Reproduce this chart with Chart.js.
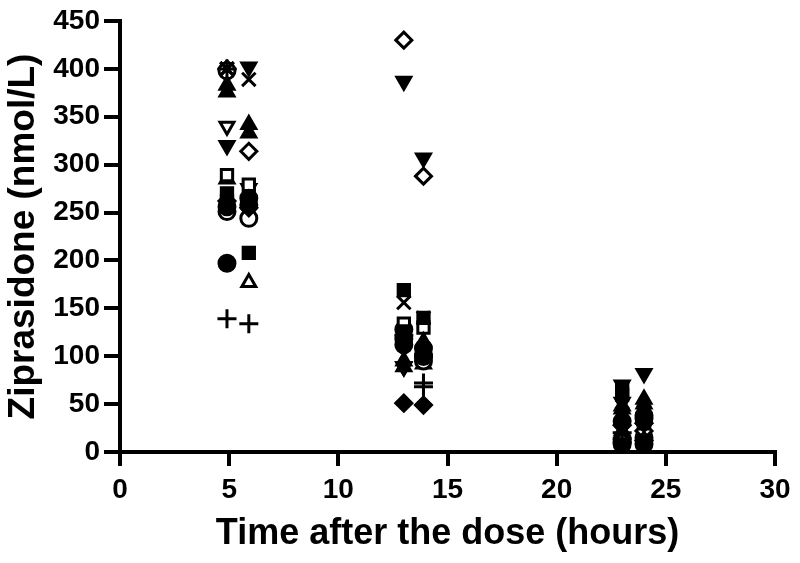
<!DOCTYPE html>
<html>
<head>
<meta charset="utf-8">
<script src="https://cdn.jsdelivr.net/npm/chart.js@4.4.1/dist/chart.umd.min.js"></script>
<style>
  html, body { margin: 0; padding: 0; background: #fff; }
</style>
</head>
<body>
<canvas id="chart" width="800" height="563"></canvas>
<script>
// one entry per subject: marker, sampling times (h) and ziprasidone (nmol/L)
const subjects = [
  { style: "star",     filled: false, rot: 0,   x: [4.9, 13.0, 23.0], y: [400, 122, 20] },
  { style: "crossRot", filled: false, rot: 0,   x: [4.9, 13.0, 23.0], y: [400, 156, 40] },
  { style: "circle",   filled: false, rot: 0,   x: [4.9, 13.9, 23.0], y: [398, 100, 12] },
  { style: "triangle", filled: true,  rot: 0,   x: [4.9, 13.0, 23.0], y: [383, 89, 45] },
  { style: "triangle", filled: true,  rot: 0,   x: [4.9, 13.9, 24.0], y: [376, 115, 50] },
  { style: "triangle", filled: false, rot: 180, x: [4.9, 13.0, 23.0], y: [340, 89, 52] },
  { style: "triangle", filled: true,  rot: 180, x: [4.9, 13.9, 23.0], y: [320, 307, 70] },
  { style: "rect",     filled: false, rot: 0,   x: [4.9, 13.0, 24.0], y: [289, 134, 30] },
  { style: "triangle", filled: false, rot: 0,   x: [4.9, 13.0, 23.0], y: [285, 125, 22] },
  { style: "rect",     filled: true,  rot: 0,   x: [4.9, 13.0, 23.0], y: [270, 169, 60] },
  { style: "rectRot",  filled: true,  rot: 0,   x: [4.9, 13.0, 23.0], y: [262, 51, 28] },
  { style: "circle",   filled: true,  rot: 0,   x: [4.9, 13.0, 24.0], y: [256, 118, 35] },
  { style: "circle",   filled: false, rot: 0,   x: [4.9, 13.9, 23.0], y: [251, 95, 8] },
  { style: "circle",   filled: true,  rot: 0,   x: [4.9, 13.0, 23.0], y: [197, 112, 32] },
  { style: "cross",    filled: false, rot: 0,   x: [4.9, 13.9, 23.0], y: [139, 68, 14] },
  { style: "triangle", filled: true,  rot: 180, x: [5.9, 13.0, 24.0], y: [402, 387, 82] },
  { style: "crossRot", filled: false, rot: 0,   x: [5.9, 13.9, 24.0], y: [389, 140, 42] },
  { style: "triangle", filled: true,  rot: 0,   x: [5.9, 13.9, 24.0], y: [342, 103, 55] },
  { style: "triangle", filled: true,  rot: 0,   x: [5.9, 13.0, 23.0], y: [333, 95, 48] },
  { style: "rectRot",  filled: false, rot: 0,   x: [5.9, 13.0, 24.0], y: [314, 430, 12] },
  { style: "rectRot",  filled: false, rot: 0,   x: [4.9, 13.9, 24.0], y: [400, 288, 22] },
  { style: "rect",     filled: false, rot: 0,   x: [5.9, 13.9, 24.0], y: [279, 130, 20] },
  { style: "triangle", filled: false, rot: 180, x: [5.9, 13.0, 24.0], y: [275, 89, 25] },
  { style: "circle",   filled: true,  rot: 0,   x: [5.9, 13.9, 24.0], y: [265, 108, 38] },
  { style: "rectRot",  filled: true,  rot: 0,   x: [5.9, 13.9, 24.0], y: [255, 49, 30] },
  { style: "circle",   filled: false, rot: 0,   x: [5.9, 13.0, 24.0], y: [244, 128, 15] },
  { style: "rect",     filled: true,  rot: 0,   x: [5.9, 13.9, 23.0], y: [208, 140, 65] },
  { style: "triangle", filled: false, rot: 0,   x: [5.9, 13.9, 24.0], y: [177, 92, 18] },
  { style: "cross",    filled: false, rot: 0,   x: [5.9, 13.9, 23.0], y: [134, 72, 10] },
  { style: "rect",     filled: true,  rot: 0,   x: [4.9, 13.0, 23.0], y: [262, 126, 8] },
  { style: "circle",   filled: true,  rot: 0,   x: [5.9, 13.9, 24.0], y: [258, 100, 8] }
];

const xTicks = [0, 5, 10, 15, 20, 25, 30];
const yTicks = [0, 50, 100, 150, 200, 250, 300, 350, 400, 450];

const datasets = subjects.map((s, i) => ({
  label: "Subject " + (i + 1),
  data: s.x.map((t, k) => ({ x: t, y: s.y[k] })),
  pointStyle: s.style,
  rotation: s.rot,
  pointRadius: ["cross", "crossRot", "star"].includes(s.style) ? 9.5 : 8,
  pointBorderWidth: 3,
  borderColor: "#000",
  backgroundColor: s.filled ? "#000" : "#fff",
  showLine: false,
  // filled markers on top, open ones underneath
  order: s.filled ? 0 : 1
}));

const fam = "'Liberation Sans', Arial, sans-serif";
const tickFont = { family: fam, size: 28, weight: "bold" };

new Chart(document.getElementById("chart"), {
  type: "scatter",
  data: { datasets },
  options: {
    responsive: false,
    animation: false,
    clip: false,
    layout: { padding: { top: 21, right: 25, left: 0, bottom: 0 } },
    plugins: { legend: { display: false }, tooltip: { enabled: false } },
    scales: {
      x: {
        type: "linear",
        min: 0, max: 30,
        afterBuildTicks: (scale) => { scale.ticks = xTicks.map(v => ({ value: v })); },
        afterFit: (scale) => { scale.height = 111; },
        border: { color: "#000", width: 4 },
        grid: { drawOnChartArea: false, drawTicks: true, tickLength: 14, lineWidth: 4, color: "#000" },
        ticks: { color: "#000", font: tickFont, padding: 7, maxRotation: 0 },
        title: { display: true, text: "Time after the dose (hours)", color: "#000",
                 font: { family: fam, size: 36, weight: "bold" }, padding: { top: 0, bottom: 7 } }
      },
      y: {
        type: "linear",
        min: 0, max: 450,
        afterBuildTicks: (scale) => { scale.ticks = yTicks.map(v => ({ value: v })); },
        afterFit: (scale) => { scale.width = 120; },
        border: { color: "#000", width: 4 },
        grid: { drawOnChartArea: false, drawTicks: true, tickLength: 16, lineWidth: 4, color: "#000" },
        ticks: { color: "#000", font: tickFont, padding: 4 },
        title: { display: true, text: "Ziprasidone (nmol/L)", color: "#000",
                 font: { family: fam, size: 37, weight: "bold" }, padding: { top: 2, bottom: 0 } }
      }
    }
  }
});
</script>
</body>
</html>
